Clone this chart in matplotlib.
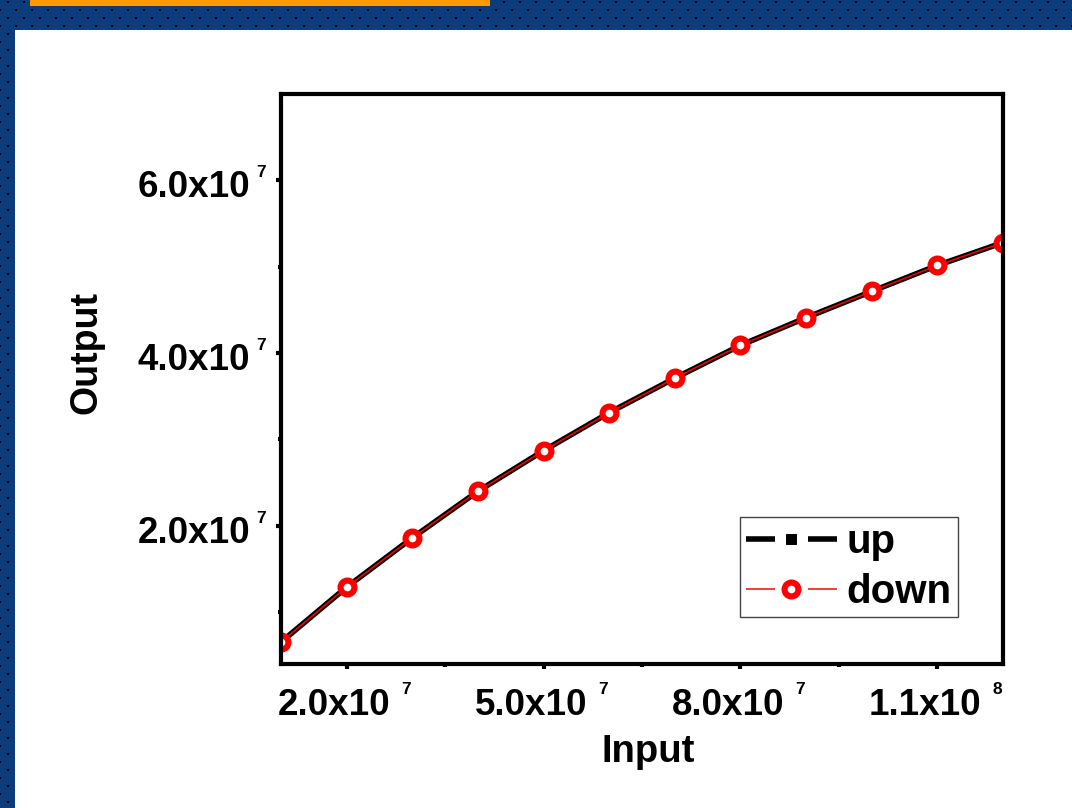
import numpy as np
import matplotlib
matplotlib.use("Agg")
import matplotlib.pyplot as plt
from matplotlib.lines import Line2D
from matplotlib.legend_handler import HandlerBase

# ---- data -------------------------------------------------------------
input_vals = [1.0e7, 2.0e7, 3.0e7, 4.0e7, 5.0e7, 6.0e7,
              7.0e7, 8.0e7, 9.0e7, 1.0e8, 1.1e8, 1.2e8]
up_vals = [6.54e6, 1.29e7, 1.86e7, 2.40e7, 2.87e7, 3.31e7,
           3.71e7, 4.09e7, 4.41e7, 4.715e7, 5.015e7, 5.28e7]
down_vals = [6.54e6, 1.29e7, 1.86e7, 2.40e7, 2.87e7, 3.31e7,
             3.71e7, 4.09e7, 4.41e7, 4.715e7, 5.015e7, 5.28e7]

x_major = [2.0e7, 5.0e7, 8.0e7, 1.1e8]
x_minor = [3.5e7, 6.5e7, 9.5e7]
x_main = ["2.0x10", "5.0x10", "8.0x10", "1.1x10"]
x_exp = ["7", "7", "7", "8"]

y_major = [2.0e7, 4.0e7, 6.0e7]
y_minor = [1.0e7, 3.0e7, 5.0e7]
y_main = ["2.0x10", "4.0x10", "6.0x10"]
y_exp = ["7", "7", "7"]

series_names = ["up", "down"]

# ---- figure & decorative background -----------------------------------
plt.rcParams["font.family"] = ["Liberation Sans", "DejaVu Sans"]
plt.rcParams["font.weight"] = "bold"

W, H = 1072, 808
fig = plt.figure(figsize=(W / 100, H / 100), dpi=100)

bg = np.empty((H, W, 3), dtype=np.uint8)
bg[:] = (12, 60, 124)
yy, xx = np.mgrid[0:H, 0:W]
ry, rx = yy % 16, xx % 16
dots = (np.isin(ry, (1, 2)) & np.isin(rx, (7, 8))) | \
       (np.isin(ry, (9, 10)) & np.isin(rx, (15, 0)))
bg[dots] = (0, 0, 0)
bg[30:, 15:] = 255
bg[0:6, 30:490] = (255, 153, 0)
fig.figimage(bg, xo=0, yo=0, origin="upper", zorder=-10)

# ---- axes ---------------------------------------------------------------
L, R, T, B = 281, 1003, 94, 664
ax = fig.add_axes([L / W, 1 - B / H, (R - L) / W, (B - T) / H])
ax.set_facecolor("white")

ax.plot(input_vals, up_vals, color="black", lw=4, marker="s", ms=6.5,
        mew=0.7, mfc="black", mec="black", label=series_names[0], zorder=3)
ax.plot(input_vals, down_vals, color="red", lw=1.1, marker="o", ms=10,
        mew=4.4, mfc="white", mec="red", label=series_names[1], zorder=4)

ax.set_xlim(1.0e7, 1.2e8)
ax.set_ylim(4.0e6, 7.0e7)

for s in ax.spines.values():
    s.set_linewidth(3)
    s.set_zorder(5)

ax.set_xticks(x_major)
ax.set_xticks(x_minor, minor=True)
ax.set_yticks(y_major)
ax.set_yticks(y_minor, minor=True)
ax.tick_params(which="major", direction="out", length=3.5, width=3,
               labelbottom=False, labelleft=False)
ax.tick_params(which="minor", direction="out", length=2, width=3)

main_fs, exp_fs = 26.5, 12.5
for v, m, e in zip(x_major, x_main, x_exp):
    ax.annotate(m, xy=(v, 0), xycoords=("data", "axes fraction"),
                xytext=(44, -51), textcoords="offset pixels",
                ha="right", va="baseline", fontsize=main_fs, fontweight="bold")
    ax.annotate(e, xy=(v, 0), xycoords=("data", "axes fraction"),
                xytext=(55, -30), textcoords="offset pixels",
                ha="left", va="baseline", fontsize=exp_fs, fontweight="bold")
for v, m, e in zip(y_major, y_main, y_exp):
    ax.annotate(m, xy=(0, v), xycoords=("axes fraction", "data"),
                xytext=(-31, -17), textcoords="offset pixels",
                ha="right", va="baseline", fontsize=main_fs, fontweight="bold")
    ax.annotate(e, xy=(0, v), xycoords=("axes fraction", "data"),
                xytext=(-15, 3), textcoords="offset pixels",
                ha="right", va="baseline", fontsize=exp_fs, fontweight="bold")

ax.text((648 - L) / (R - L), -(762 - B) / (B - T), "Input",
        transform=ax.transAxes, ha="center", va="baseline",
        fontsize=27.5, fontweight="bold")
ax.text(-(L - 86) / (R - L), (B - 353) / (B - T), "Output",
        transform=ax.transAxes, ha="center", va="center", rotation=90,
        fontsize=27, fontweight="bold")


# ---- legend with broken line around the marker -------------------------
class BrokenLineHandler(HandlerBase):
    def create_artists(self, legend, orig_handle, xdescent, ydescent,
                       width, height, fontsize, trans):
        y = height / 2 - ydescent
        x0 = -xdescent
        x1 = x0 + width
        seg = 0.32 * width
        kw = dict(color=orig_handle.get_color(),
                  lw=orig_handle.get_linewidth(), solid_capstyle="butt")
        a = Line2D([x0, x0 + seg], [y, y], **kw)
        b = Line2D([x1 - seg, x1], [y, y], **kw)
        m = Line2D([(x0 + x1) / 2], [y], linestyle="none",
                   marker=orig_handle.get_marker(),
                   ms=orig_handle.get_markersize(),
                   mew=orig_handle.get_markeredgewidth(),
                   mfc=orig_handle.get_markerfacecolor(),
                   mec=orig_handle.get_markeredgecolor())
        for art in (a, b, m):
            art.set_transform(trans)
        return [a, b, m]


leg = ax.legend(handler_map={Line2D: BrokenLineHandler()},
                loc="lower right",
                bbox_to_anchor=((958 - L) / (R - L), (B - 617) / (B - T)),
                borderaxespad=0, frameon=True, fancybox=False,
                framealpha=1, edgecolor="#444444",
                prop=dict(family="Liberation Sans", weight="bold", size=29),
                handlelength=2.25, handletextpad=0.25, labelspacing=0.3,
                borderpad=0.15)
leg.get_frame().set_linewidth(1.0)
leg.set_zorder(6)

fig.savefig("out.png", dpi=100)
